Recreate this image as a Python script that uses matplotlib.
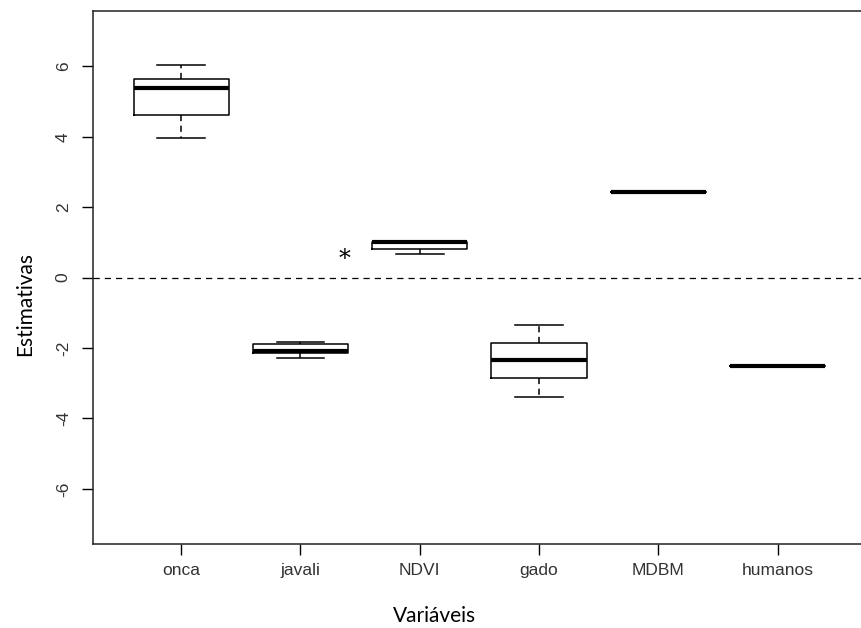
import matplotlib
matplotlib.use("Agg")
from matplotlib import pyplot as plt

categories = ["onca", "javali", "NDVI", "gado", "MDBM", "humanos"]
whislo = [3.97, -2.27, 0.66, -3.38, 2.43, -2.50]
q1 = [4.62, -2.14, 0.81, -2.84, 2.43, -2.50]
med = [5.37, -2.08, 1.01, -2.35, 2.43, -2.50]
q3 = [5.65, -1.89, 1.02, -1.85, 2.43, -2.50]
whishi = [6.03, -1.83, 1.05, -1.35, 2.43, -2.50]
yticks = [-6, -4, -2, 0, 2, 4, 6]

stats = []
for i in range(len(categories)):
    stats.append({"label": categories[i], "whislo": whislo[i], "q1": q1[i],
                  "med": med[i], "q3": q3[i], "whishi": whishi[i], "fliers": []})

fig = plt.figure(figsize=(8.61, 6.28), dpi=100)
# right border of the original plot lies outside the picture
ax = fig.add_axes([0.108, 0.134, 0.91, 0.848])

ax.bxp(stats, positions=range(1, len(categories) + 1), widths=0.8,
       showfliers=False,
       boxprops=dict(color="black", linewidth=1.1),
       medianprops=dict(color="black", linewidth=3),
       whiskerprops=dict(color="black", linewidth=1.1, linestyle=(0, (4, 3))),
       capprops=dict(color="black", linewidth=1.1))

ax.axhline(0, color="black", linewidth=0.9, linestyle=(0, (5, 4)))
ax.text(2.37, 0.5, "*", fontsize=17, ha="center", va="center", family="DejaVu Serif")

ax.set_xlim(0.26, 6.83)
ax.set_ylim(-7.56, 7.56)
ax.set_yticks(yticks)
ax.set_yticklabels([str(t) for t in yticks], rotation=90, va="center")
ax.tick_params(axis="both", length=8, width=1, labelsize=12.5, colors="black")
ax.tick_params(axis="x", pad=6)
ax.tick_params(axis="y", pad=8)
for lab in ax.get_xticklabels() + ax.get_yticklabels():
    lab.set_family("Liberation Sans")
    lab.set_color("#333333")
for s in ax.spines.values():
    s.set_linewidth(1.1)
    s.set_color("#222222")
ax.spines["right"].set_visible(False)

fig.text(435 / 861, 1 - 622 / 628, "Variáveis", fontsize=15, family="Lato",
         ha="center", va="baseline")
fig.text(25 / 861, 1 - 304 / 628, "Estimativas", fontsize=15, family="Lato",
         ha="center", va="center", rotation=90)

fig.savefig("out.png", dpi=100)
